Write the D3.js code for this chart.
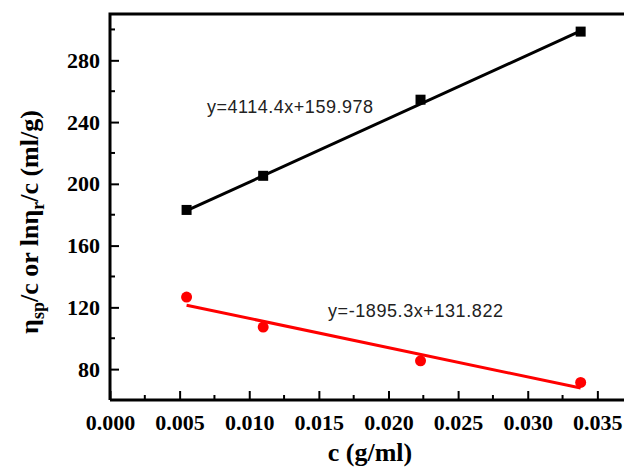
<!DOCTYPE html>
<html>
<head>
<meta charset="utf-8">
<script src="https://cdn.jsdelivr.net/npm/d3@7"></script>
<style>
  body { margin: 0; background: #fff; }
  svg { display: block; }
</style>
</head>
<body>
<svg id="chart" width="624" height="468"></svg>
<script>
// data
var conc = [0.0055, 0.0110, 0.0223, 0.0338];
var etaSp = [183.1, 205.2, 254.5, 298.6];   // black squares
var lnEtaR = [126.7, 107.2, 85.4, 71.4];    // red circles
var fitSp = [4114.4, 159.978];
var fitLn = [-1895.3, 131.822];
var xTicks = [0, 0.005, 0.010, 0.015, 0.020, 0.025, 0.030, 0.035];
var yTicks = [80, 120, 160, 200, 240, 280];

var svg = d3.select("#chart");
var pLeft = 110, pTop = 14, pRight = 628, pBottom = 400;

var x = d3.scaleLinear().domain([0, 0.0372]).range([pLeft, pRight]);
var y = d3.scaleLinear().domain([60, 310]).range([pBottom, pTop]);

var serif = "'Liberation Serif','Times New Roman',serif";

// frame: left, top (right side is cut off)
svg.append("path")
  .attr("d", "M" + pLeft + "," + pBottom + "V" + pTop + "H" + 640)
  .attr("fill", "none").attr("stroke", "#000").attr("stroke-width", 3);

// x axis
var xMinor = d3.range(0.0025, 0.0366, 0.005);
var gx = svg.append("g").attr("transform", "translate(0," + pBottom + ")")
  .call(d3.axisBottom(x).tickValues(xTicks).tickFormat(d3.format(".3f")).tickSizeInner(-9).tickSizeOuter(0).tickPadding(14));
gx.select(".domain").attr("stroke-width", 3).attr("d", "M" + pLeft + ",0H" + 640);
gx.selectAll(".tick line").attr("stroke-width", 2);
gx.selectAll("text").attr("font-family", serif).attr("font-weight", "bold").attr("font-size", 22).attr("fill", "#000");
gx.selectAll(".minor").data(xMinor)
  .enter().append("line").attr("class", "minor")
  .attr("x1", function (d) { return x(d); }).attr("x2", function (d) { return x(d); })
  .attr("y1", 0).attr("y2", -5).attr("stroke", "#000").attr("stroke-width", 2);

// y axis
var yMinor = [100, 140, 180, 220, 260, 300];
var gy = svg.append("g").attr("transform", "translate(" + pLeft + ",0)")
  .call(d3.axisLeft(y).tickValues(yTicks).tickSizeInner(-9).tickSizeOuter(0).tickPadding(10));
gy.select(".domain").remove();
gy.selectAll(".tick line").attr("stroke-width", 2);
gy.selectAll("text").attr("font-family", serif).attr("font-weight", "bold").attr("font-size", 22).attr("fill", "#000");
gy.selectAll(".minor").data(yMinor)
  .enter().append("line").attr("class", "minor")
  .attr("y1", function (d) { return y(d); }).attr("y2", function (d) { return y(d); })
  .attr("x1", 0).attr("x2", 5).attr("stroke", "#000").attr("stroke-width", 2);

// fit lines
function fitLine(f) {
  var xs = [conc[0], conc[conc.length - 1]];
  return xs.map(function (c) { return { x: x(c), y: y(f[0] * c + f[1]) }; });
}
var line = d3.line().x(function (d) { return d.x; }).y(function (d) { return d.y; });

svg.append("path").attr("d", line(fitLine(fitSp)))
  .attr("fill", "none").attr("stroke", "#000").attr("stroke-width", 3);
svg.append("path").attr("d", line(fitLine(fitLn)))
  .attr("fill", "none").attr("stroke", "#ff0000").attr("stroke-width", 3);

// markers
svg.selectAll(".sq").data(conc).enter().append("rect").attr("class", "sq")
  .attr("x", function (d) { return x(d) - 5; })
  .attr("y", function (d, i) { return y(etaSp[i]) - 5; })
  .attr("width", 10).attr("height", 10).attr("fill", "#000");
svg.selectAll(".ci").data(conc).enter().append("circle").attr("class", "ci")
  .attr("cx", function (d) { return x(d); })
  .attr("cy", function (d, i) { return y(lnEtaR[i]); })
  .attr("r", 5.5).attr("fill", "#ff0000");

// equations
var sans = "'Liberation Sans',Arial,sans-serif";
svg.append("text").attr("x", 207).attr("y", 113)
  .attr("font-family", sans).attr("font-size", 18).attr("fill", "#222")
  .attr("textLength", 166).text("y=4114.4x+159.978");
svg.append("text").attr("x", 328).attr("y", 317)
  .attr("font-family", sans).attr("font-size", 18).attr("fill", "#222")
  .attr("textLength", 175).text("y=-1895.3x+131.822");

// axis titles
svg.append("text").attr("x", 370).attr("y", 461).attr("text-anchor", "middle")
  .attr("font-family", serif).attr("font-weight", "bold").attr("font-size", 26)
  .text("c (g/ml)");

var yt = svg.append("text").attr("transform", "translate(38,222) rotate(-90)")
  .attr("text-anchor", "middle")
  .attr("font-family", serif).attr("font-weight", "bold").attr("font-size", 26);
yt.append("tspan").text("\u03b7");
yt.append("tspan").attr("font-size", 18).attr("dy", 6).text("sp");
yt.append("tspan").attr("dy", -6).text("/c or ln\u03b7");
yt.append("tspan").attr("font-size", 18).attr("dy", 6).text("r");
yt.append("tspan").attr("dy", -6).text("/c (ml/g)");
</script>
</body>
</html>
